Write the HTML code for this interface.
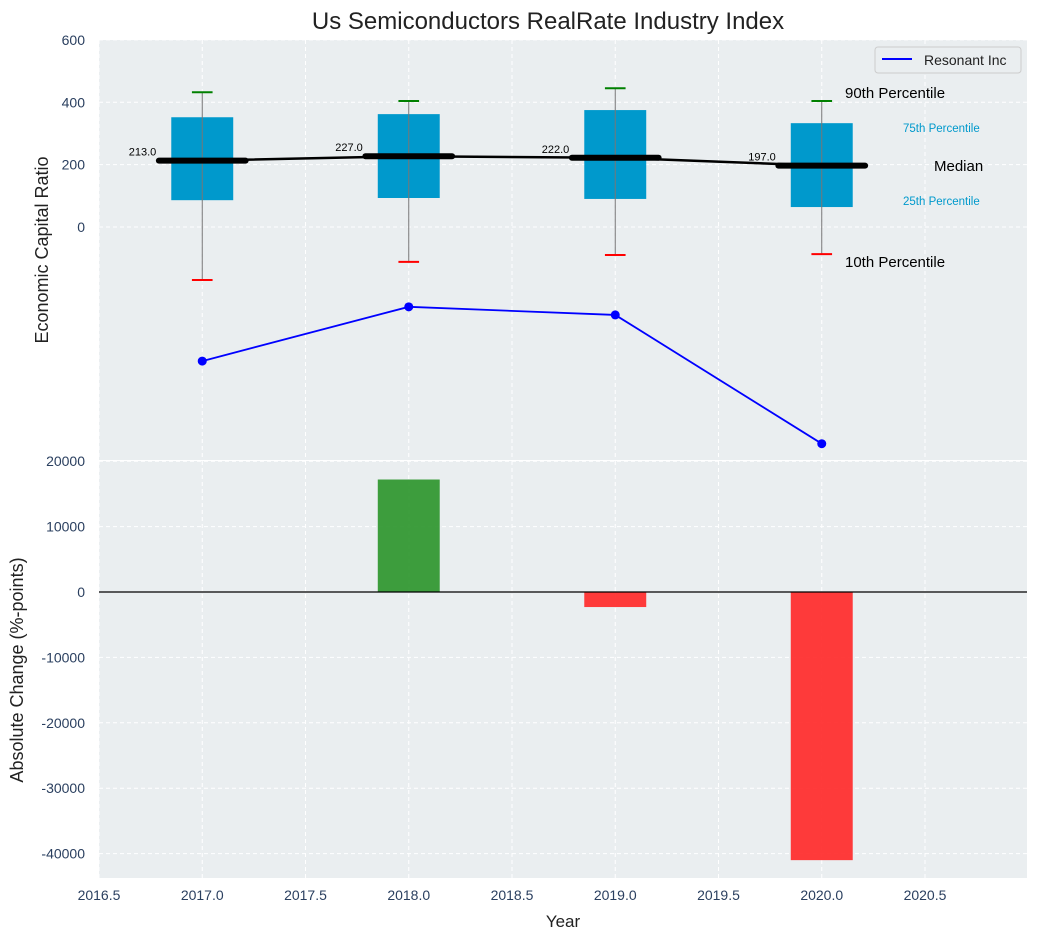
<!DOCTYPE html>
<html><head><meta charset="utf-8"><style>
body{margin:0;background:#fff;font-family:"Liberation Sans",sans-serif}
svg text{font-family:"Liberation Sans",sans-serif}
</style></head><body>
<svg id="c" width="1038" height="940" xmlns="http://www.w3.org/2000/svg"></svg>
<script>
const years=[2017,2018,2019,2020];
const q10=[-170,-112,-90,-87];
const q25=[86,93,90,64];
const medians=[213,227,222,197];
const q75=[352,362,375,333];
const q90=[432,404,445,404];
const resonant=[-430,-256,-282,-695];
const changes=[0,17200,-2300,-41000];
const xTicks=[2016.5,2017,2017.5,2018,2018.5,2019,2019.5,2020,2020.5];
const yTopTicks=[0,200,400,600];
const yBotTicks=[20000,10000,0,-10000,-20000,-30000,-40000];

const NS="http://www.w3.org/2000/svg";
const svg=document.getElementById('c');
const L=99,R=1027;
const X=v=>L+(v-2016.5)*206.5;
const YT=v=>227-v*0.3118;
const YB=v=>592-v*0.00654;
function el(t,a,txt){const e=document.createElementNS(NS,t);for(const k in a)e.setAttribute(k,a[k]);if(txt!==undefined)e.textContent=txt;svg.appendChild(e);return e;}

let e=el('rect',{x:L,y:40,width:R-L,height:420,fill:'#eaeef0'});

e=el('rect',{x:L,y:461,width:R-L,height:417,fill:'#eaeef0'});

xTicks.forEach(t=>{
 [[40,460],[461,878]].forEach(([a,b])=>{e=el('line',{x1:X(t),x2:X(t),y1:a,y2:b,stroke:'#fff','stroke-dasharray':'4,3','stroke-width':1});
 });
});
yTopTicks.forEach(t=>{e=el('line',{x1:L,x2:R,y1:YT(t),y2:YT(t),stroke:'#fff','stroke-dasharray':'4,3'});
 
 e=el('text',{x:L-14,y:YT(t)+5,'text-anchor':'end','font-size':14,fill:'#2a3f5f'},t);
 });
yBotTicks.forEach(t=>{e=el('line',{x1:L,x2:R,y1:YB(t),y2:YB(t),stroke:'#fff','stroke-dasharray':'4,3'});
 
 e=el('text',{x:L-14,y:YB(t)+5,'text-anchor':'end','font-size':14,fill:'#2a3f5f'},t);
 });
xTicks.forEach(t=>{e=el('text',{x:X(t),y:900,'text-anchor':'middle','font-size':14,fill:'#2a3f5f'},t.toFixed(1));
 });
const hw=0.15*206.5, mw=0.21*206.5, cw=0.05*206.5;
years.forEach((y,i)=>{
 const cx=X(y);
 e=el('rect',{x:cx-hw,y:YT(q75[i]),width:2*hw,height:YT(q25[i])-YT(q75[i]),fill:'#0099cc'});
 
 e=el('line',{x1:cx,x2:cx,y1:YT(q90[i]),y2:YT(q10[i]),stroke:'#777','stroke-width':1});
 
 e=el('line',{x1:cx-cw,x2:cx+cw,y1:YT(q90[i]),y2:YT(q90[i]),stroke:'green','stroke-width':2});
 
 e=el('line',{x1:cx-cw,x2:cx+cw,y1:YT(q10[i]),y2:YT(q10[i]),stroke:'red','stroke-width':2});
 
 e=el('line',{x1:cx-mw,x2:cx+mw,y1:YT(medians[i]),y2:YT(medians[i]),stroke:'#000','stroke-width':6,'stroke-linecap':'round'});
 
 e=el('text',{x:cx-46,y:YT(medians[i])-5,'text-anchor':'end','font-size':11},medians[i].toFixed(1));
 
});
e=el('polyline',{points:years.map((y,i)=>X(y)+','+YT(medians[i])).join(' '),fill:'none',stroke:'#000','stroke-width':2.5});

e=el('polyline',{points:years.map((y,i)=>X(y)+','+YT(resonant[i])).join(' '),fill:'none',stroke:'blue','stroke-width':1.8});

years.forEach((y,i)=>{e=el('circle',{cx:X(y),cy:YT(resonant[i]),r:4.5,fill:'blue'});
 });
[['90th Percentile',845,98,15,'#000'],['75th Percentile',903,132,11.5,'#0099cc'],['Median',934,171,15,'#000'],['25th Percentile',903,205,11.5,'#0099cc'],['10th Percentile',845,267,15,'#000']].forEach(a=>{
 e=el('text',{x:a[1],y:a[2],'font-size':a[3],fill:a[4]},a[0]);
 });
e=el('rect',{x:875,y:47,width:146,height:26,rx:3,fill:'#eaeef0',stroke:'#ccc'});

e=el('line',{x1:882,x2:912,y1:59,y2:59,stroke:'blue','stroke-width':2});

e=el('text',{x:924,y:65,'font-size':14,fill:'#222'},'Resonant Inc');

years.forEach((y,i)=>{const v=changes[i];if(!v)return;
 e=el('rect',{x:X(y)-hw,y:Math.min(YB(v),YB(0)),width:2*hw,height:Math.abs(YB(v)-YB(0)),fill:v>0?'#2e962e':'#ff2a2a','fill-opacity':0.92});
 });
e=el('line',{x1:L,x2:R,y1:YB(0),y2:YB(0),stroke:'#000','stroke-width':1.2});

e=el('text',{x:548,y:29,'text-anchor':'middle','font-size':24,fill:'#222'},'Us Semiconductors RealRate Industry Index');

e=el('text',{x:563,y:927,'text-anchor':'middle','font-size':17,fill:'#222'},'Year');

e=el('text',{x:48,y:250,'text-anchor':'middle','font-size':18,fill:'#222',transform:'rotate(-90 48 250)'},'Economic Capital Ratio');

e=el('text',{x:23,y:670,'text-anchor':'middle','font-size':18,fill:'#222',transform:'rotate(-90 23 670)'},'Absolute Change (%-points)');

</script>
</body></html>
